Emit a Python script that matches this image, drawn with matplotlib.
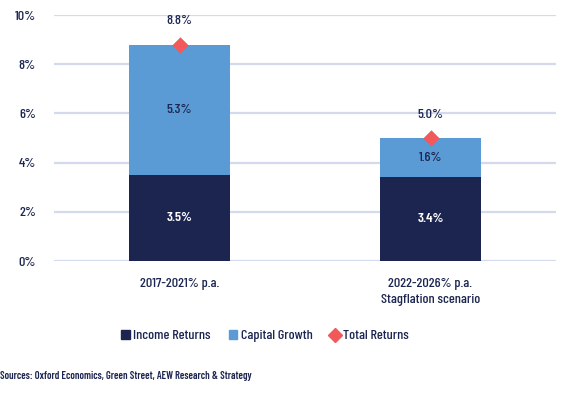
import numpy as np
import matplotlib
matplotlib.use('Agg')
import matplotlib.pyplot as plt
from matplotlib.lines import Line2D
from matplotlib.patches import Patch

# --- data ---
categories = ['2017-2021% p.a.', '2022-2026% p.a.\nStagflation scenario']
income = [3.5, 3.4]
capital = [5.3, 1.6]
total = [8.8, 5.0]

NAVY = '#1c2550'
LIGHT = '#5b9bd5'
RED = '#f05a5a'
GRID = '#d3daee'

plt.rcParams['font.family'] = ['Barlow Condensed', 'DejaVu Sans']
plt.rcParams['font.weight'] = 500
plt.rcParams['text.color'] = NAVY

fig = plt.figure(figsize=(5.67, 3.94), dpi=100)
ax = fig.add_axes([54/567, 1 - 261/394, 502/567, 246/394])

x = np.arange(len(categories))
w = 0.4
ax.bar(x, income, w, color=NAVY, zorder=2)
ax.bar(x, capital, w, bottom=income, color=LIGHT, zorder=2)
ax.scatter(x, total, marker='D', s=70, color=RED, zorder=3, linewidths=0)

FS = 10.2
for i in range(len(x)):
    ax.text(x[i], income[i] / 2, f'{income[i]:.1f}%', ha='center', va='center',
            color='white', fontsize=FS, fontweight='semibold')
    ax.text(x[i], income[i] + capital[i] / 2, f'{capital[i]:.1f}%', ha='center',
            va='center', color=NAVY, fontsize=FS)
    ax.text(x[i], total[i] + 0.95, f'{total[i]:.1f}%', ha='center', va='center',
            color=NAVY, fontsize=FS)

ax.set_xlim(-0.5, 1.5)
ax.set_ylim(0, 10)
ax.set_yticks(np.arange(0, 11, 2))
ax.set_yticklabels([f'{v}%' for v in range(0, 11, 2)], fontsize=FS, color=NAVY)
ax.set_xticks(x)
ax.set_xticklabels(categories, fontsize=FS, color=NAVY, linespacing=1.5)
ax.tick_params(length=0)
ax.tick_params(axis='y', pad=13)
ax.tick_params(axis='x', pad=12)
ax.yaxis.grid(True, color=GRID, lw=1.6, zorder=0)
ax.set_axisbelow(True)
for s in ax.spines.values():
    s.set_visible(False)

handles = [Patch(color=NAVY, label='Income Returns'),
           Patch(color=LIGHT, label='Capital Growth'),
           Line2D([], [], marker='D', color=RED, ls='none', markersize=7,
                  label='Total Returns')]
fig.legend(handles=handles, loc='center', bbox_to_anchor=(265/567, 1 - 336/394),
           ncol=3, frameon=False, fontsize=FS, handlelength=0.6,
           handleheight=0.6, handletextpad=0.25, columnspacing=1.3)

fig.text(0.0, 1 - 376/394, 'Sources: Oxford Economics, Green Street, AEW Research & Strategy',
         fontsize=7.5, color=NAVY, va='center', ha='left', fontweight='semibold')

fig.savefig('out.png', dpi=100)
